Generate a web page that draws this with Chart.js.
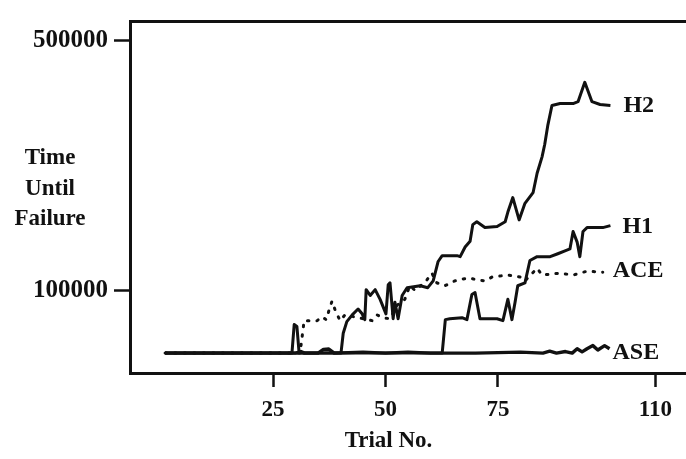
<!DOCTYPE html>
<html><head><meta charset="utf-8">
<script src="https://cdn.jsdelivr.net/npm/chart.js@4"></script>
<style>html,body{margin:0;padding:0;background:#fff;}#wrap{width:686px;height:459px;}</style>
</head><body><div id="wrap"><canvas id="c" width="686" height="459"></canvas></div>
<script>
// ---- data ----
const h2Trials = [1, 29.2, 29.7, 30.3, 30.8, 40.1, 40.6, 41.4, 42.6, 43.9, 44.8, 45.4, 45.7, 46.6, 47.7, 48.8, 50.1, 50.6, 51.0, 51.7, 52.1, 52.8, 53.7, 54.8, 57.7, 59.4, 60.6, 61.7, 62.6, 65.9, 66.6, 67.7, 68.8, 69.4, 70.3, 72.1, 74.8, 76.6, 77.2, 78.3, 79.7, 81.0, 82.8, 83.7, 84.8, 85.4, 86.1, 87.0, 88.8, 91.7, 92.8, 94.3, 95.9, 97.7, 100];
const h2Values = [0, 0, 45700, 42600, 0, 0, 31800, 50400, 61200, 70500, 62800, 53500, 101500, 92200, 101500, 86000, 62800, 109300, 112400, 55000, 81400, 55000, 92200, 104600, 107700, 104600, 115500, 146500, 155800, 155800, 154200, 169700, 179000, 205400, 210000, 200700, 202300, 210000, 225500, 248700, 213000, 239500, 256500, 287500, 313800, 334000, 365000, 396000, 399000, 399000, 402000, 433000, 402000, 397500, 396000];

const h1Trials = [1, 62.6, 63.3, 64.3, 67.0, 68.1, 69.2, 69.9, 71.0, 72.8, 74.8, 76.1, 77.2, 78.1, 78.8, 79.4, 81.0, 82.1, 83.7, 86.6, 88.3, 89.9, 91.0, 91.7, 92.6, 93.2, 93.9, 94.8, 98.3, 100];
const h1Values = [0, 0, 53500, 55000, 56600, 53500, 93800, 96900, 55000, 55000, 55000, 51900, 86000, 53500, 81400, 107700, 112400, 148000, 154200, 154200, 158900, 163500, 166600, 194500, 177500, 154200, 194500, 200700, 200700, 203800];

const aceTrials = [1, 31.0, 31.7, 31.9, 34.8, 35.9, 36.8, 37.4, 38.1, 38.8, 39.9, 41.0, 47.0, 48.1, 49.4, 51.0, 52.6, 54.3, 55.4, 56.6, 59.2, 60.3, 61.4, 63.2, 65.4, 67.2, 68.8, 70.3, 72.1, 73.7, 77.2, 79.9, 81.0, 83.7, 84.8, 88.8, 91.7, 94.8, 98.3];
const aceValues = [0, 0, 39500, 51900, 51900, 58100, 53500, 67400, 82900, 69000, 51900, 61200, 51900, 61200, 56600, 55000, 76700, 86000, 107700, 100000, 117000, 127900, 112400, 107700, 115500, 118600, 120100, 117000, 115500, 121700, 124800, 121700, 115500, 135600, 124800, 127900, 124800, 131000, 129400];

const aseTrials = [1, 30.0, 31.2, 32.0, 35.0, 36.2, 37.4, 38.6, 45, 50, 55, 60, 70, 80, 85, 86.5, 88, 90, 91.5, 92.6, 93.7, 94.8, 96.1, 97.2, 98.7, 99.8];
const aseValues = [0, 0, 2500, 0, 0, 6000, 6500, 0, 1500, 0, 1500, 0, 0, 1500, 0, 3000, 0, 2500, 0, 7000, 2000, 7000, 12000, 5000, 12000, 7000];

const seriesNames = ['H2', 'H1', 'ACE', 'ASE'];
const xTickValues = [25, 50, 75, 110];
const yTickValues = [100000, 500000];
const yTitleLines = ['Time', 'Until', 'Failure'];
const xTitle = 'Trial No.';

// ---- chart ----
const INK = '#111';
const FONT = "'Liberation Serif', 'Times New Roman', serif";
const pts = (xs, ys) => xs.map((x, i) => ({x: x, y: ys[i]}));

const labelOffsets = {H2: [13, 0], H1: [12, 1], ACE: [10, -1], ASE: [3, 4]};

const textPlugin = {
  id: 'texts',
  afterDraw(chart) {
    const ctx = chart.ctx;
    ctx.save();
    ctx.fillStyle = INK;
    ctx.font = 'bold 24px ' + FONT;
    ctx.textAlign = 'left';
    ctx.textBaseline = 'middle';
    chart.data.datasets.forEach((ds, i) => {
      const meta = chart.getDatasetMeta(i);
      const last = meta.data[meta.data.length - 1];
      const off = labelOffsets[ds.label] || [8, 0];
      ctx.fillText(ds.label, last.x + off[0], last.y + off[1]);
    });
    ctx.textAlign = 'center';
    ctx.font = 'bold 23px ' + FONT;
    const yTitleY = [158, 189, 219];
    yTitleLines.forEach((t, i) => ctx.fillText(t, 50, yTitleY[i]));
    const xs = chart.scales.x;
    ctx.fillText(xTitle, xs.getPixelForValue(50) + 3, 441);
    ctx.restore();
  }
};

new Chart(document.getElementById('c'), {
  type: 'line',
  data: {
    datasets: [
      {label: seriesNames[0], data: pts(h2Trials, h2Values), borderColor: INK, borderWidth: 3},
      {label: seriesNames[1], data: pts(h1Trials, h1Values), borderColor: INK, borderWidth: 3},
      {label: seriesNames[2], data: pts(aceTrials, aceValues), borderColor: INK, borderWidth: 3, borderDash: [1.5, 8], borderCapStyle: 'round'},
      {label: seriesNames[3], data: pts(aseTrials, aseValues), borderColor: INK, borderWidth: 3.4}
    ]
  },
  options: {
    responsive: false,
    devicePixelRatio: 1,
    animation: false,
    events: [],
    layout: {padding: {top: 10, left: 0, right: 0, bottom: 0}},
    elements: {point: {radius: 0}, line: {tension: 0, fill: false, borderJoinStyle: 'round'}},
    plugins: {legend: {display: false}, tooltip: {enabled: false}},
    scales: {
      x: {
        type: 'linear', position: 'bottom', min: -6.8, max: 116.8,
        afterBuildTicks: s => { s.ticks = xTickValues.map(v => ({value: v})); },
        afterFit: s => { s.height = 86; },
        ticks: {callback: v => String(v), color: INK, padding: 9, maxRotation: 0, autoSkip: false,
                font: {family: FONT, size: 23, weight: 'bold'}},
        grid: {display: true, drawOnChartArea: false, drawTicks: true, tickLength: 14, tickWidth: 2.5, tickColor: INK},
        border: {display: true, width: 3, color: INK}
      },
      x2: {
        type: 'linear', position: 'top', min: -6.8, max: 116.8,
        afterBuildTicks: s => { s.ticks = []; },
        afterFit: s => { s.height = 0; },
        ticks: {display: false},
        grid: {display: true, drawOnChartArea: false, drawTicks: false},
        border: {display: true, width: 3, color: INK}
      },
      y: {
        type: 'linear', position: 'left', min: -31800, max: 531000,
        afterBuildTicks: s => { s.ticks = yTickValues.map(v => ({value: v})); },
        afterFit: s => { s.width = 130; },
        ticks: {callback: v => String(v), color: INK, padding: 6,
                font: {family: FONT, size: 25, weight: 'bold'}},
        grid: {display: true, drawOnChartArea: false, drawTicks: true, tickLength: 16, tickWidth: 2.5, tickColor: INK},
        border: {display: true, width: 3, color: INK}
      }
    }
  },
  plugins: [textPlugin]
});
</script>
</body></html>
